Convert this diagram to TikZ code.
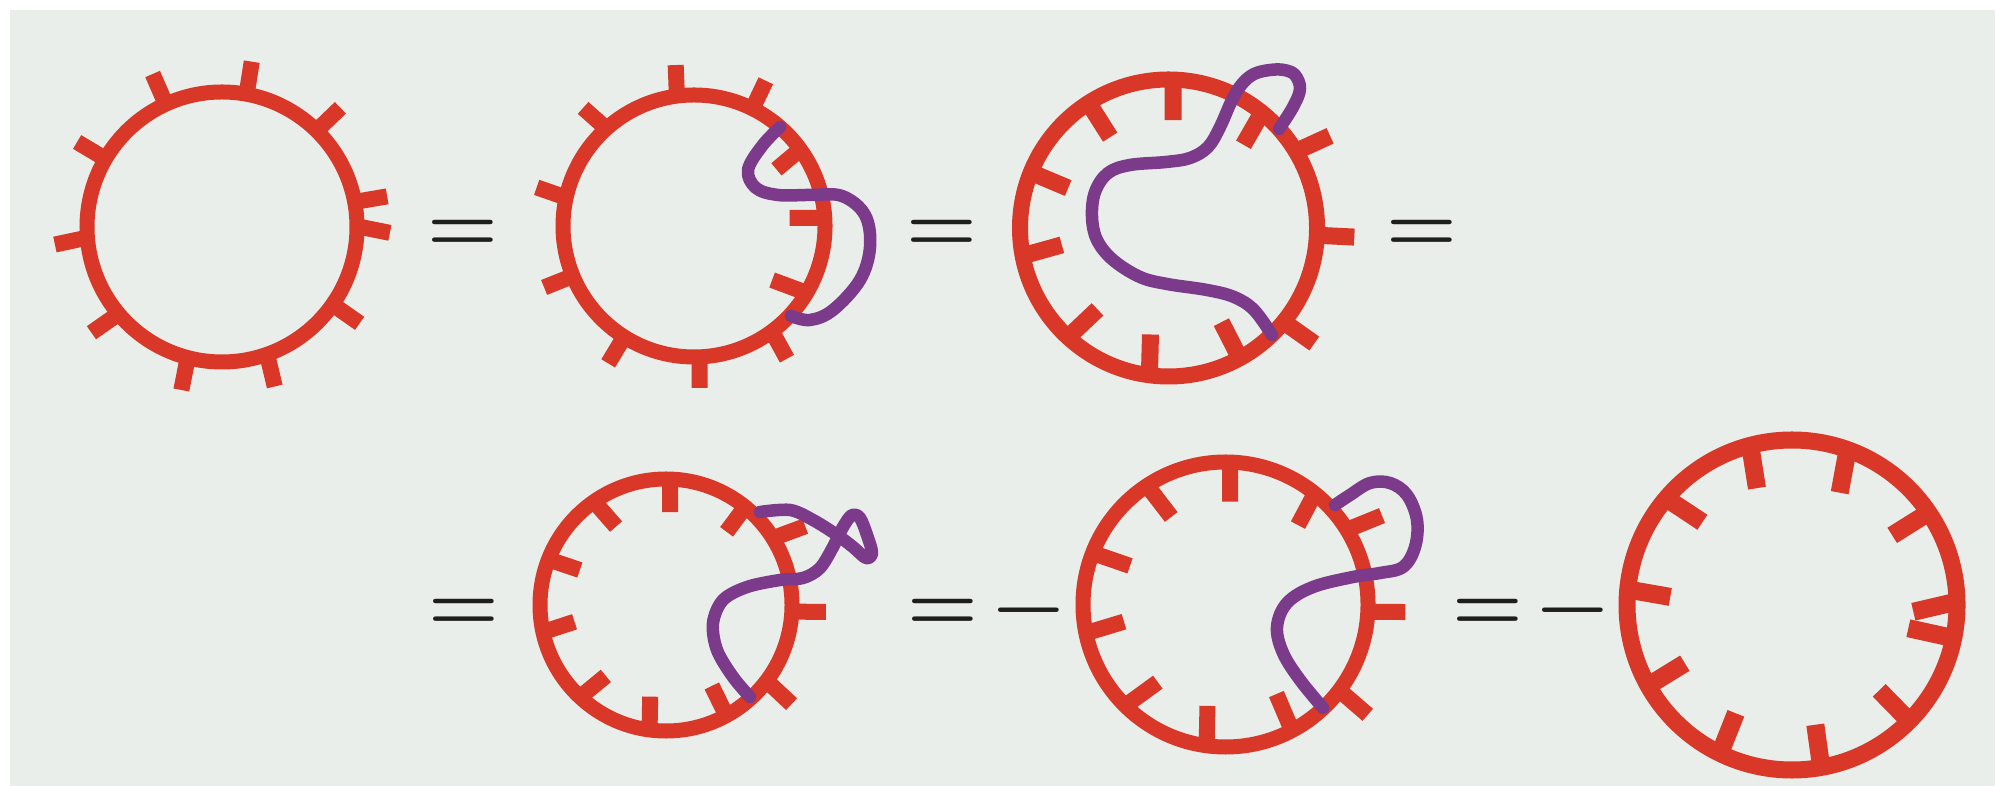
\documentclass[tikz,border=0pt]{standalone}
\usepackage{fontspec}
\definecolor{bgc}{HTML}{E9EEEA}
\definecolor{redc}{HTML}{D93828}
\definecolor{purc}{HTML}{7B3A8A}
\definecolor{eqc}{HTML}{1E1E1E}
\tikzset{
  ring/.style={draw=redc, line width=0.15cm},
  tk/.style={draw=redc, line width=0.16cm, line cap=butt},
  strand/.style={draw=purc, line width=0.125cm, line cap=round, line join=round},
  eq/.style={anchor=base, inner sep=0pt, text=eqc, font=\fontsize{23}{23}\selectfont\bfseries}
}
\begin{document}
\begin{tikzpicture}[x=0.01cm,y=-0.01cm]
\useasboundingbox (0,0) rectangle (1995,786);
\fill[bgc] (10,10) rectangle (1995,786);

% ---------- circle 1 ----------
\begin{scope}[shift={(222,227)},yscale=-1]
  \draw[ring] (0,0) circle (135);
  \foreach \ai/\ao in {79.5/79.8,114.6/114.4,45.5/45.2,149.7/149.6,10.7/10.5,0.3/-2,184.5/186,220/219,255.3/256,289.5/288.3,325/325}
    {\draw[tk] (\ai:135) -- (\ao:168);}
\end{scope}

% ---------- circle 2 ----------
\begin{scope}[shift={(694,226)},yscale=-1]
  \draw[ring] (0,0) circle (131);
  \foreach \ai/\ao in {97.5/96.5,63.5/63.7,132/133.2,167.5/166.2,202.4/202.3,237.8/238,272.5/272,306.5/305}
    {\draw[tk] (\ai:131) -- (\ao:162);}
  \draw[tk] (35.8:131) -- (34.5:100);
  \draw[tk] (3.5:131) -- (4.8:96);
  \draw[tk] (-30.7:131) -- (-34.7:95);
\end{scope}
\draw[strand] plot[smooth,tension=0.6] coordinates {(780,127) (762,146) (748,170) (756,188) (778,195) (810,195) (842,196) (865,215) (870,247) (860,280) (833,310) (810,320) (791,316)};

% ---------- circle 3 ----------
\begin{scope}[shift={(1168.5,228)},yscale=-1]
  \draw[ring,line width=0.16cm] (0,0) circle (148.5);
  \foreach \ai/\ao in {88.2/87.6,122.6/122.7,158/158.3,190.8/189,227.4/228.9,262.6/260.4,298.7/299.3}
    {\draw[tk,line width=0.17cm] (\ai:148.5) -- (\ao:108);}
  \draw[tk,line width=0.17cm] (51:148.5) -- (48:112);
  \foreach \ai/\ao in {31/29.7,-2.8/-2.8,-39.2/-38.4}
    {\draw[tk,line width=0.17cm] (\ai:148.5) -- (\ao:186);}
\end{scope}
\draw[strand] plot[smooth,tension=0.6] coordinates {(1279,129) (1293,107) (1300,89) (1295,75) (1284,70) (1270,70) (1254,74) (1242,84) (1232,100) (1220,127) (1208,147) (1190,158) (1166,162) (1130,165) (1108,173) (1095,192) (1092,217) (1097,240) (1113,260) (1140,277) (1167,284) (1207,290) (1234,297) (1254,310) (1272,335)};

% ---------- circle 4 ----------
\begin{scope}[shift={(666,605)},yscale=-1]
  \draw[ring] (0,0) circle (126);
  \foreach \ai/\ao in {88.1/87.5,124.8/122.5,158.8/157.9,192.4/190.4,227/229.7,262.5/260.2,298.6/299.5}
    {\draw[tk] (\ai:126) -- (\ao:93);}
  \draw[tk] (51.1:126) -- (50.4:95);
  \foreach \ai/\ao in {32/29.5,-3/-2.5,-37/-38.3}
    {\draw[tk] (\ai:126) -- (\ao:160);}
\end{scope}
\draw[strand] plot[smooth,tension=0.55] coordinates {(750,697) (733,677) (717,650) (713,623) (723,600) (747,587) (780,580) (803,578) (820,568) (833,547) (843,527) (852,515) (860,518) (867,535) (872,553) (866,558) (853,547) (837,535) (813,520) (790,510) (760,512)};

% ---------- circle 5 ----------
\begin{scope}[shift={(1225.5,604.5)},yscale=-1]
  \draw[ring] (0,0) circle (142.5);
  \foreach \ai/\ao in {88.1/87.5,123.4/121.8,158.8/158,191.6/189.6,225.3/228.9,262.4/259.9,297.8/299.6}
    {\draw[tk] (\ai:142.5) -- (\ao:103);}
  \draw[tk] (51.2:142.5) -- (47.6:107.5);
  \foreach \ai/\ao in {31.6/29.6,-2.9/-2.4,-37/-37.8}
    {\draw[tk] (\ai:142.5) -- (\ao:180);}
\end{scope}
\draw[strand] plot[smooth,tension=0.6] coordinates {(1323,708) (1300,680) (1283,653) (1277,627) (1287,603) (1313,587) (1353,577) (1380,573) (1403,567) (1415,547) (1417,520) (1407,495) (1390,483) (1370,483) (1350,495) (1335,505)};

% ---------- circle 6 ----------
\begin{scope}[shift={(1792,605)},yscale=-1]
  \draw[ring,line width=0.17cm] (0,0) circle (165);
  \foreach \ao/\ai in {104.7/106.7,70.3/67,34.1/34.8,-44.7/-44.4,-79.8/-79,244.1/242.6,209.3/208.5,174.6/176.2,139.7/137.3}
    {\draw[tk,line width=0.18cm] (\ao:165) -- (\ai:122);}
  \draw[tk,line width=0.18cm] (1.2:165) -- (-3.2:121.5);
  \draw[tk,line width=0.18cm] (-11.6:165) -- (-11.3:118.6);
\end{scope}

% ---------- signs ----------
\node[eq] (e1) at (463,251.5) {=};
\node[eq] (e2) at (941.5,251.5) {=};
\node[eq] (e3) at (1421.5,251.5) {=};
\node[eq] (e4) at (464,630) {=};
\node[eq] (e5) at (943,630) {=};
\node[eq] (m1) at (1028.5,631) {−};
\node[eq] (e6) at (1487.5,630) {=};
\node[eq] (m2) at (1573,631) {−};
\end{tikzpicture}
\end{document}
